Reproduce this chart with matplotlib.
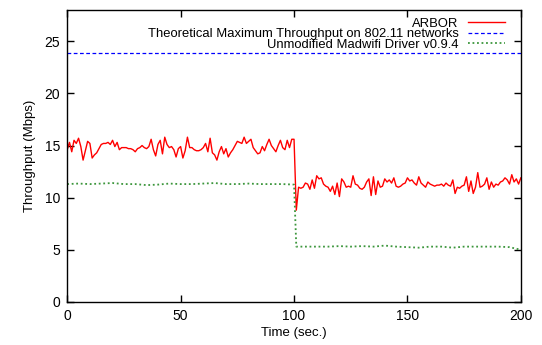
import matplotlib
matplotlib.use("Agg")
import matplotlib.pyplot as plt

plt.rcParams['font.family'] = ['Liberation Sans', 'DejaVu Sans']

# ARBOR throughput, one sample per second (t = 0..200)
arbor_t = list(range(0, 201))
arbor_y = [
    14.6, 15.3, 14.4, 15.5, 15.2, 15.7, 14.9, 13.6, 14.5, 15.4,
    15.2, 13.8, 14.1, 14.3, 14.7, 15.1, 15.2, 15.2, 15.3, 15.1,
    15.5, 14.9, 15.3, 14.6, 14.8, 14.8, 14.8, 14.7, 14.7, 14.6,
    14.4, 14.7, 14.8, 15.0, 14.8, 14.7, 14.9, 15.6, 14.6, 14.0,
    15.1, 15.5, 14.2, 15.8, 15.1, 14.8, 14.9, 14.6, 13.9, 14.7,
    14.9, 13.8, 14.5, 15.8, 14.8, 14.8, 14.6, 14.5, 14.5, 14.6,
    14.8, 15.2, 14.4, 15.7, 14.3, 14.1, 13.6, 14.4, 14.9, 14.2,
    14.7, 13.9, 14.3, 14.6, 15.0, 15.4, 15.3, 15.2, 15.8, 15.2,
    15.4, 15.6, 14.8, 14.5, 14.2, 14.3, 14.9, 14.5, 15.1, 15.6,
    15.0, 14.7, 14.4, 15.0, 15.5, 14.8, 14.6, 15.5, 14.8, 15.6,
    15.6, 8.8, 11.0, 10.9, 11.0, 11.4, 11.3, 10.8, 11.7, 10.9,
    12.1, 11.8, 11.9, 11.3, 11.1, 11.0, 10.6, 11.1, 10.3, 11.4,
    10.1, 11.8, 11.5, 11.0, 11.1, 11.0, 12.1, 11.3, 11.2, 10.9,
    10.8, 11.0, 11.5, 11.8, 10.2, 12.0, 10.3, 11.6, 11.0, 11.1,
    11.8, 11.5, 11.7, 11.4, 11.9, 11.1, 11.0, 11.1, 11.3, 11.4,
    11.9, 11.6, 11.7, 11.4, 11.2, 12.0, 11.4, 11.2, 11.0, 11.5,
    11.3, 11.2, 11.1, 11.2, 11.2, 11.3, 11.1, 11.4, 11.2, 11.1,
    11.7, 10.4, 11.0, 10.9, 11.1, 11.2, 12.0, 10.6, 11.6, 10.4,
    11.0, 12.4, 11.0, 11.1, 11.3, 11.9, 10.8, 11.5, 11.0, 11.3,
    11.2, 11.5, 11.6, 11.9, 11.7, 11.3, 12.2, 11.5, 11.8, 11.3,
    11.9,
]

# theoretical maximum
theo_t = [0, 200]
theo_y = [23.9, 23.9]

# unmodified madwifi driver
mad_t = list(range(0, 101, 5)) + [101] + list(range(105, 201, 5))
mad_y = [
    11.3, 11.35, 11.3, 11.35, 11.4, 11.3, 11.3, 11.2, 11.25, 11.35,
    11.3, 11.3, 11.35, 11.4, 11.3, 11.3, 11.35, 11.3, 11.3, 11.3,
    11.25,
    5.3, 5.3, 5.3, 5.3, 5.35, 5.3, 5.35, 5.3, 5.4, 5.3,
    5.25, 5.2, 5.3, 5.3, 5.2, 5.3, 5.3, 5.3, 5.3, 5.25,
    5.0,
]

fig = plt.figure(figsize=(5.42, 3.45), dpi=100)
ax = fig.add_axes([0.124, 0.125, 0.837, 0.846])

ax.plot(arbor_t, arbor_y, color='red', lw=1.0, label='ARBOR')
ax.plot(theo_t, theo_y, color='#0000ff', lw=0.9, linestyle=(0, (3, 2)),
        label='Theoretical Maximum Throughput on 802.11 networks')
ax.plot(mad_t, mad_y, color='#3c963c', lw=1.3, linestyle=(0, (1, 1.5)),
        label='Unmodified Madwifi Driver v0.9.4')

ax.set_xlim(0, 200)
ax.set_ylim(0, 28)
ax.set_xticks([0, 50, 100, 150, 200])
ax.set_yticks([0, 5, 10, 15, 20, 25])
ax.tick_params(direction='in', length=5, width=1, top=True, right=True,
               labelsize=10, pad=5)
for s in ax.spines.values():
    s.set_linewidth(1.0)

ax.set_xlabel('Time (sec.)', fontsize=9.5, labelpad=3)
ax.set_ylabel('Throughput (Mbps)', fontsize=9.5, labelpad=6)

ax.legend(loc='upper right', bbox_to_anchor=(0.985, 1.005), frameon=False,
          markerfirst=False, fontsize=9.4, handlelength=2.8,
          handletextpad=0.75, labelspacing=-0.12, borderaxespad=0.3)

fig.savefig('out.png', dpi=100)
